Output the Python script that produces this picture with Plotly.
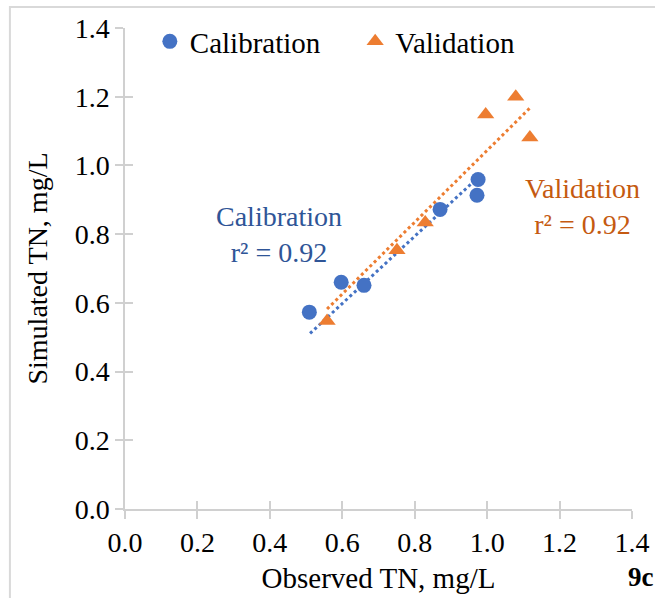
import plotly.graph_objects as go

cal_obs = [0.509, 0.597, 0.660, 0.870, 0.975, 0.972]
cal_sim = [0.573, 0.660, 0.651, 0.872, 0.959, 0.913]
val_obs = [0.558, 0.751, 0.829, 0.996, 1.079, 1.118]
val_sim = [0.547, 0.753, 0.834, 1.148, 1.200, 1.081]
# linear trendline end points
cal_trend_x = [0.511, 0.975]
cal_trend_y = [0.511, 0.965]
val_trend_x = [0.558, 1.118]
val_trend_y = [0.582, 1.167]
tick_vals = [0.0, 0.2, 0.4, 0.6, 0.8, 1.0, 1.2, 1.4]
tick_text = ["0.0", "0.2", "0.4", "0.6", "0.8", "1.0", "1.2", "1.4"]

BLUE = "#4472C4"
ORANGE = "#ED7D31"
FONT = "Liberation Serif"
AX = "#D0D0D0"

fig = go.Figure()
fig.add_trace(go.Scatter(x=cal_trend_x, y=cal_trend_y, mode="lines", showlegend=False,
                         line=dict(color=BLUE, width=3, dash="dot")))
fig.add_trace(go.Scatter(x=val_trend_x, y=val_trend_y, mode="lines", showlegend=False,
                         line=dict(color=ORANGE, width=3, dash="dot")))
fig.add_trace(go.Scatter(x=cal_obs, y=cal_sim, mode="markers", name="Calibration",
                         legend="legend",
                         marker=dict(symbol="circle", size=15, color=BLUE)))
fig.add_trace(go.Scatter(x=val_obs, y=val_sim, mode="markers", name="Validation",
                         legend="legend2",
                         marker=dict(symbol="triangle-up", size=15, color=ORANGE)))
# empty trace so the overlay (inner tick) axes are drawn
fig.add_trace(go.Scatter(x=[None], y=[None], xaxis="x2", yaxis="y2", mode="markers",
                         showlegend=False, hoverinfo="skip"))

axis_common = dict(range=[0, 1.4], tickvals=tick_vals, ticktext=tick_text,
                   showgrid=False, zeroline=False, showline=True, automargin=False,
                   linecolor=AX, linewidth=1.5, ticks="outside",
                   tickcolor=AX, ticklen=8, tickwidth=1.5,
                   tickfont=dict(family=FONT, size=28, color="#000000"))
fig.update_xaxes(**axis_common,
                 title=dict(text="Observed TN, mg/L", font=dict(family=FONT, size=29, color="#000"), standoff=10))
fig.update_yaxes(**axis_common,
                 title=dict(text="Simulated TN, mg/L", font=dict(family=FONT, size=28, color="#000"), standoff=19))

# overlay axes giving the inner half of the "cross" tick marks
inner = dict(range=[0, 1.4], tickvals=tick_vals, showticklabels=False, showgrid=False,
             zeroline=False, showline=False, ticks="inside", ticklen=8, tickwidth=1.5,
             tickcolor=AX, automargin=False)

leg_common = dict(orientation="h", y=1.025, xanchor="left", yanchor="top",
                  font=dict(family=FONT, size=29, color="#000"),
                  itemwidth=30, bgcolor="rgba(0,0,0,0)")
fig.update_layout(
    width=655, height=598,
    margin=dict(l=125, r=23, t=28, b=89),
    paper_bgcolor="white", plot_bgcolor="white",
    font=dict(family=FONT, color="#000"),
    legend=dict(x=0.049, **leg_common),
    legend2=dict(x=0.454, **leg_common),
    showlegend=True,
    xaxis2=dict(overlaying="x", side="bottom", anchor="y2", **inner),
    yaxis2=dict(overlaying="y", side="left", anchor="x2", **inner),
)

fig.add_annotation(x=0.425, y=0.80, xref="x", yref="y", showarrow=False,
                   text="Calibration<br>r² = 0.92", align="center",
                   font=dict(family=FONT, size=28, color="#2F5597"))
fig.add_annotation(x=1.262, y=0.88, xref="x", yref="y", showarrow=False,
                   text="Validation<br>r² = 0.92", align="center",
                   font=dict(family=FONT, size=28, color="#C55A11"))
fig.add_annotation(x=1.017, y=-0.142, xref="paper", yref="paper", showarrow=False,
                   text="<b>9c</b>", xanchor="center", yanchor="middle",
                   font=dict(family=FONT, size=27, color="#000"))

# outer chart border (top and left visible)
fig.add_shape(type="rect", xref="paper", yref="paper",
              x0=-0.227, x1=1.2, y0=-0.3, y1=1.0436,
              line=dict(color="#D9D9D9", width=2), fillcolor="rgba(0,0,0,0)", layer="below")

fig.write_html("out.html", config={"displayModeBar": False},
               post_script="document.body.style.margin='0';document.body.style.overflow='hidden';")
